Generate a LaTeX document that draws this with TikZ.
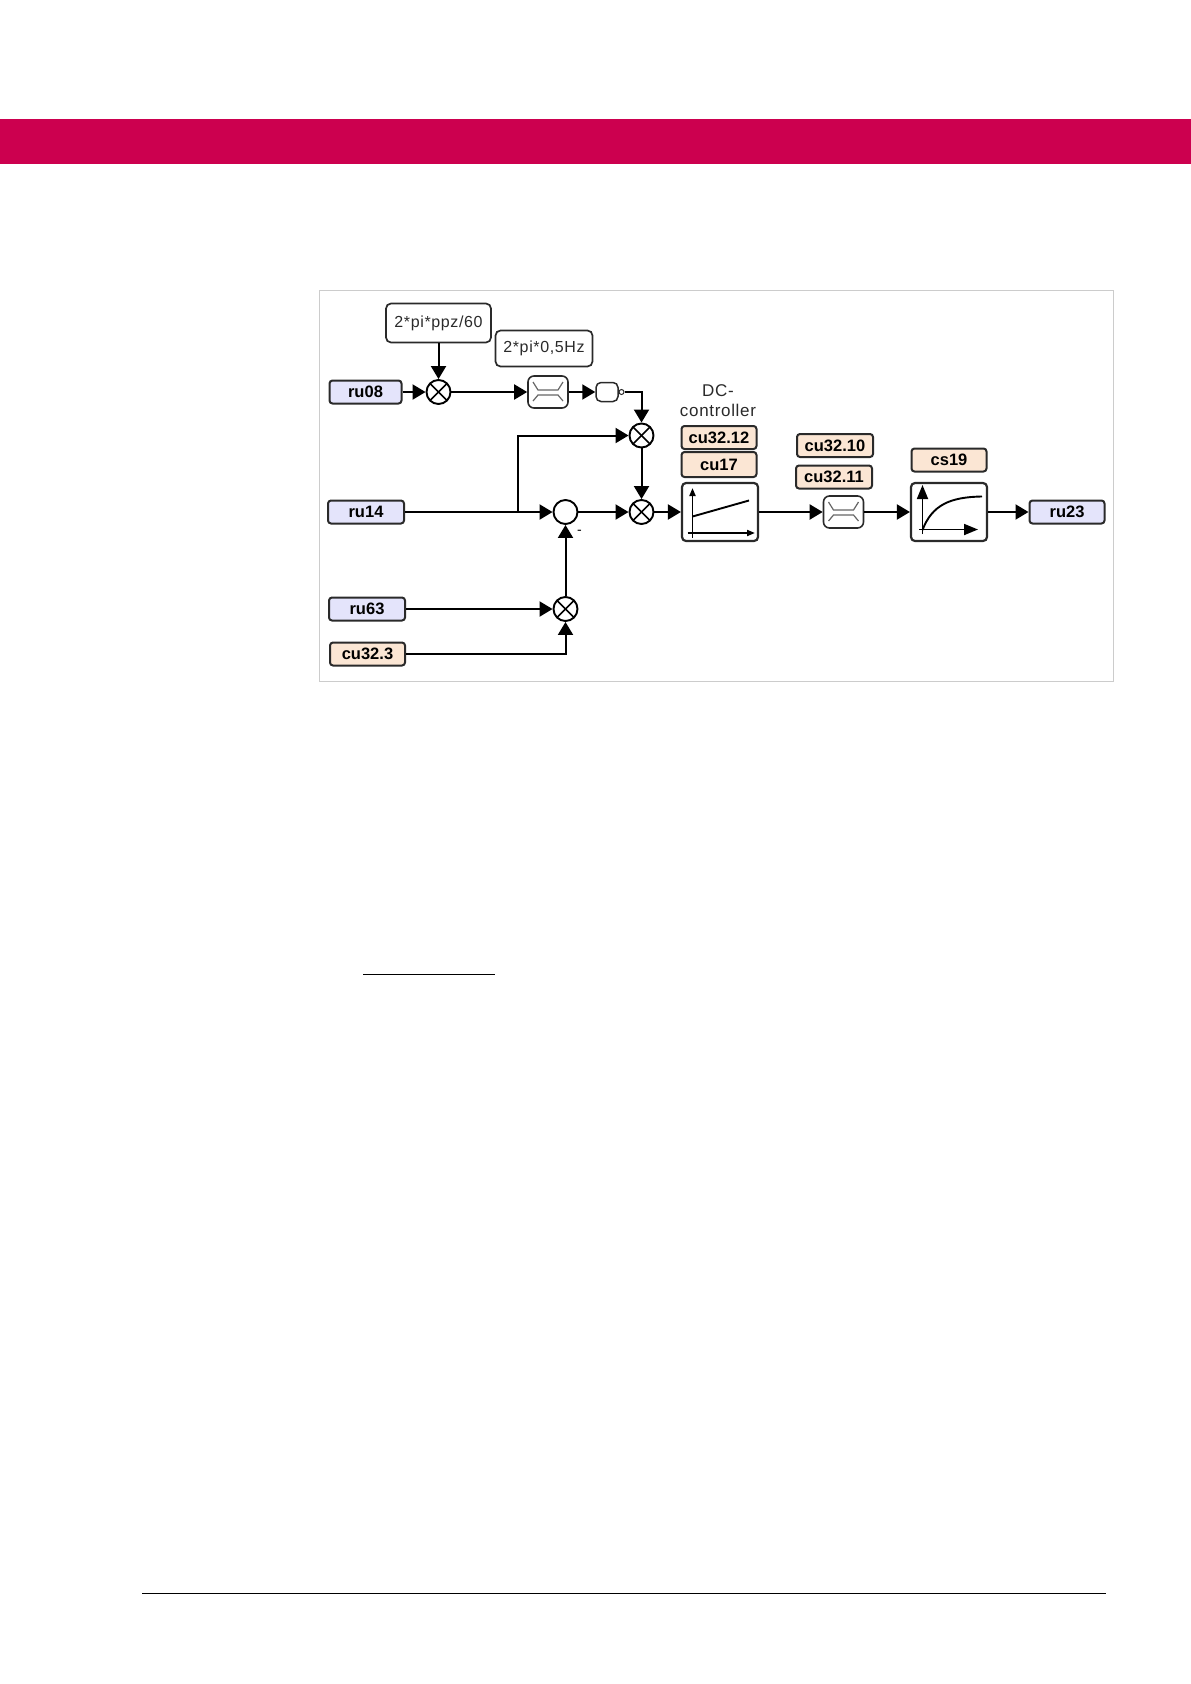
\documentclass[tikz,border=0pt]{standalone}
\usepackage{fontspec}
\setmainfont{Liberation Sans}
\newfontfamily\plainfont[LetterSpace=4]{Liberation Sans}
\usetikzlibrary{arrows.meta}
\definecolor{bandred}{HTML}{CC004F}
\definecolor{actblue}{HTML}{E4E4FB}
\definecolor{setorange}{HTML}{FBE6D4}
\definecolor{framegray}{HTML}{CCCCCC}
\definecolor{inkgray}{HTML}{2A2A2A}
\tikzset{conn/.style={-{Triangle[length=13pt,width=15pt]},draw=black,line width=2pt},
  parambox/.style={draw=inkgray,rounded corners=3pt,line width=2pt,minimum height=23pt,inner sep=0pt,font=\fontsize{16.5}{18}\selectfont\bfseries},
  actbox/.style={parambox,fill=actblue},
  setbox/.style={parambox,fill=setorange},
  constbox/.style={draw=inkgray,rounded corners=5pt,line width=1.7pt,inner sep=0pt,font=\fontsize{16}{18}\selectfont\plainfont,text=inkgray},
  blockbox/.style={draw=inkgray,rounded corners=4pt,line width=2.2pt,minimum width=76pt,minimum height=58pt,inner sep=0pt},
  filterbox/.style={draw=inkgray,rounded corners=6pt,line width=1.6pt,minimum width=40pt,minimum height=32pt,inner sep=0pt},
  junction/.style={circle,draw=black,line width=1.9pt,minimum size=24pt,inner sep=0pt},
  mult/.style={junction,path picture={
    \draw[line width=1.6pt] (path picture bounding box.south west)--(path picture bounding box.north east);
    \draw[line width=1.6pt] (path picture bounding box.north west)--(path picture bounding box.south east);}},
  glyph/.style={draw=black!60,line width=1.2pt},
  axis/.style={-{Triangle[length=8pt,width=6pt]},line width=1.8pt},
  bigaxis/.style={-{Triangle[length=14pt,width=11pt]},line width=1.8pt}}
\begin{document}
\begin{tikzpicture}[x=1pt,y=-1pt]
\path[use as bounding box] (0,0) rectangle (1191,1684);
\fill[bandred] (0,119) rectangle (1191,164);
\draw[framegray,line width=1pt] (319.5,290.5) rectangle (1113,681.5);
\draw[black,line width=1pt] (363,974)--(495,974);
\draw[black,line width=1pt] (142,1593)--(1106,1593);
% inputs
\node[actbox,minimum width=72pt] (ru08) at (365.5,392) {ru08};
\node[actbox,minimum width=76pt] (ru14) at (366,512) {ru14};
\node[actbox,minimum width=76pt] (ru63) at (367,609) {ru63};
\node[setbox,minimum width=75pt] (cu323) at (367.5,654) {cu32.3};
% constants
\node[constbox,minimum width=105pt,minimum height=39pt] (kppz) at (438.5,323) {2*pi*ppz/60};
\node[constbox,minimum width=97pt,minimum height=36pt] (khz) at (544,348.5) {2*pi*0,5Hz};
% junctions
\node[mult] (ma) at (438.5,392) {};
\node[mult] (mb) at (641.5,435.5) {};
\node[mult] (mc) at (641.5,512) {};
\node[junction] (sum) at (565.5,512) {};
\node[mult] (md) at (565.5,609) {};
\node[font=\fontsize{14}{16}\selectfont] (minus) at (579.5,532) {-};
% top path
\node[filterbox] (fa) at (548,392) {};
\node[draw=inkgray,rounded corners=5pt,line width=1.5pt,minimum width=22pt,minimum height=19pt,inner sep=0pt] (nb) at (607,392) {};
\node[circle,draw=inkgray,line width=1pt,minimum size=5pt,inner sep=0pt] (nc) at (621.5,392) {};
% controller
\node[font=\fontsize{17}{20.7}\selectfont\plainfont,text=inkgray,align=center] (dclabel) at (718,400.5) {DC-\\controller};
\node[setbox,minimum width=75pt] (cua) at (719,437.5) {cu32.12};
\node[setbox,minimum width=75pt,minimum height=25pt] (cub) at (719,464.5) {cu17};
\node[blockbox] (dc) at (720,512) {};
\node[setbox,minimum width=76pt] (cuc) at (835,445.5) {cu32.10};
\node[setbox,minimum width=76pt] (cud) at (834,477) {cu32.11};
\node[filterbox] (fb) at (843.5,512) {};
\node[setbox,minimum width=75pt] (csa) at (949,460) {cs19};
\node[blockbox] (pt) at (949,512) {};
\node[actbox,minimum width=75pt] (ru23) at (1067,512) {ru23};
% glyphs
\foreach \f in {fa,fb} {
\draw[glyph,shift={(\f)}] (-15,-10)--(-10,-2)--(10,-2)--(15,-10);
\draw[glyph,shift={(\f)}] (-15,9)--(-10,3)--(10,3)--(15,9);}
\draw[axis] (692.5,538)--(692.5,488);
\draw[axis] (687.5,533)--(755,533);
\draw[line width=1.9pt] (692.5,516.5)--(749,500.5);
\draw[bigaxis] (922.5,534)--(922.5,485);
\draw[bigaxis] (919,529.5)--(978,529.5);
\draw[line width=1.9pt] (922.5,530) .. controls (932,505) and (950,497) .. (982,496.5);
% connectors
\draw[conn] (kppz)--(ma);
\draw[conn] (ru08)--(ma);
\draw[conn] (ma)--(fa);
\draw[conn] (fa)--(nb);
\draw[conn] (nc) -| (mb);
\draw[conn] (mb)--(mc);
\draw[conn] (ru14)--(sum);
\coordinate (branch) at (517.5,512);
\draw[conn] (branch) |- (mb);
\draw[conn] (sum)--(mc);
\draw[conn] (mc)--(dc);
\draw[conn] (md)--(sum);
\draw[conn] (ru63)--(md);
\draw[conn] (cu323) -| (md);
\draw[conn] (dc)--(fb);
\draw[conn] (fb)--(pt);
\draw[conn] (pt)--(ru23);
\end{tikzpicture}
\end{document}
